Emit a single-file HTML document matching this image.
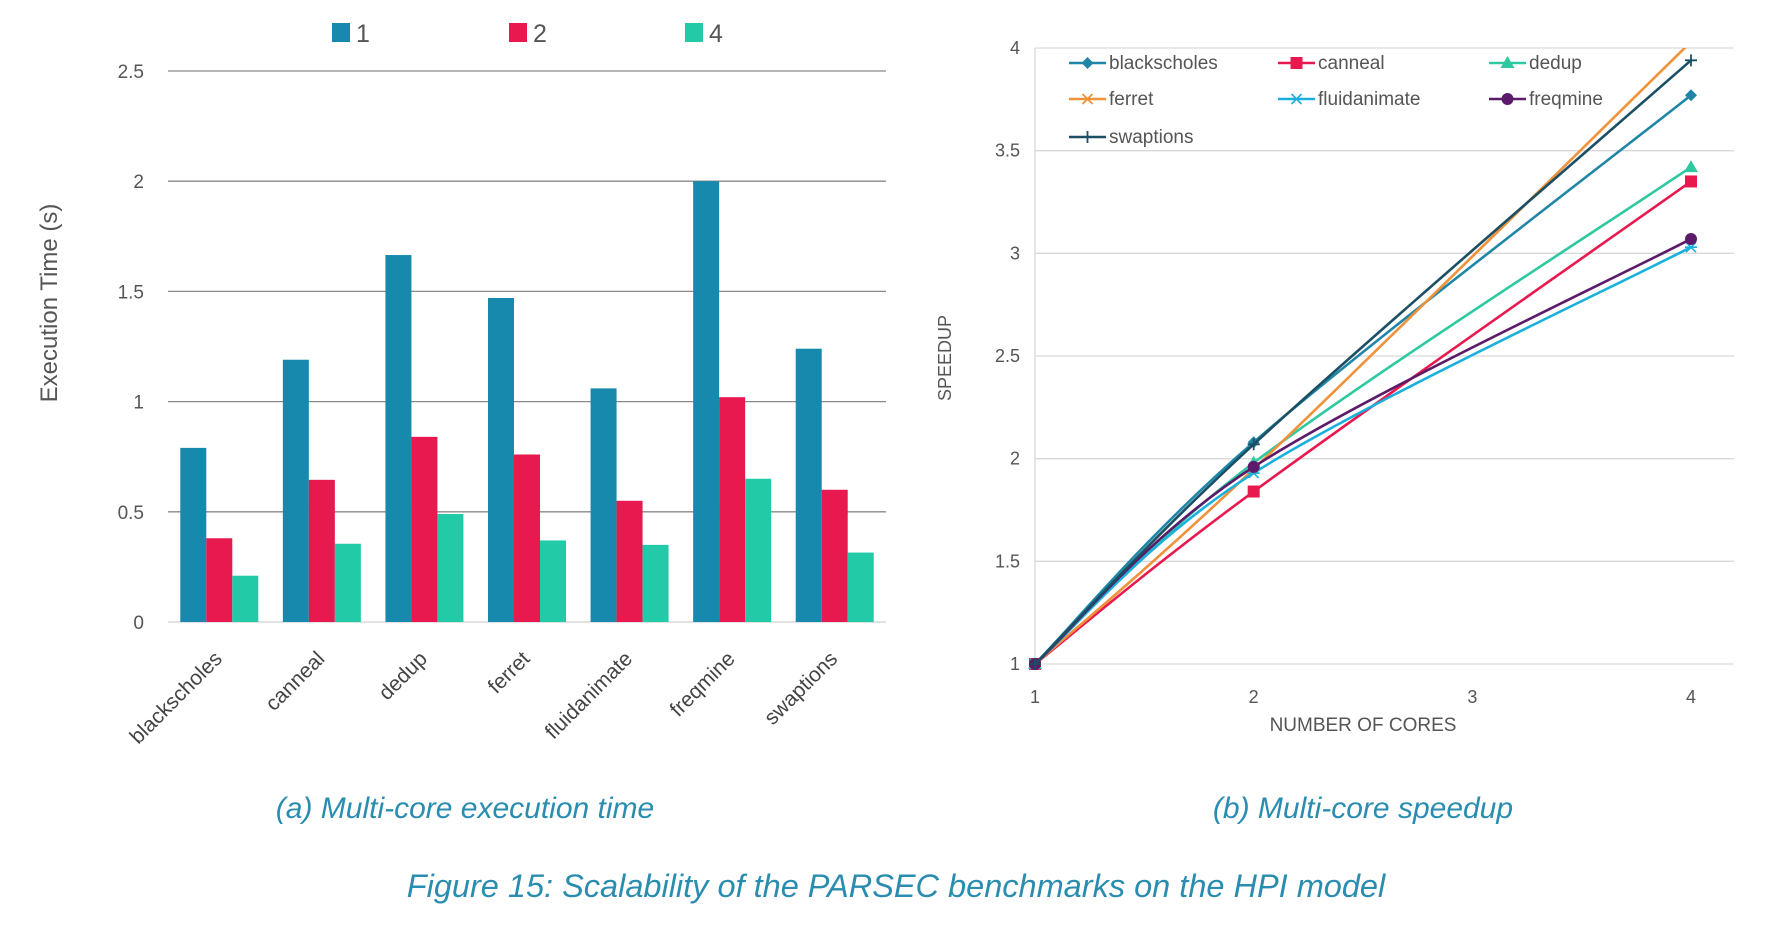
<!DOCTYPE html>
<html><head><meta charset="utf-8"><style>
body{margin:0;background:#fff;width:1792px;height:931px;overflow:hidden;font-family:"Liberation Sans",sans-serif}
svg text{font-family:"Liberation Sans",sans-serif}
</style></head><body>
<svg id="root" width="1792" height="931" viewBox="0 0 1792 931">
<g id="bar"></g>
<g id="line"></g>
<text x="465" y="818" text-anchor="middle" font-size="30" font-style="italic" fill="#2a8db0">(a) Multi-core execution time</text>
<text x="1363" y="818" text-anchor="middle" font-size="30" font-style="italic" fill="#2a8db0">(b) Multi-core speedup</text>
<text x="896" y="897" text-anchor="middle" font-size="32.5" font-style="italic" fill="#2a8db0">Figure 15: Scalability of the PARSEC benchmarks on the HPI model</text>
</svg>
<script>
const categories=["blackscholes","canneal","dedup","ferret","fluidanimate","freqmine","swaptions"];
const series1=[0.79,1.19,1.665,1.47,1.06,2.0,1.24];
const series2=[0.38,0.645,0.84,0.76,0.55,1.02,0.6];
const series4=[0.21,0.355,0.49,0.37,0.35,0.65,0.315];
const seriesNames=["1","2","4"];
const yTicks=[0,0.5,1,1.5,2,2.5];
const yTickLabels=["0","0.5","1","1.5","2","2.5"];

const cores=[1,2,4];
const lineNames=["blackscholes","canneal","dedup","ferret","fluidanimate","freqmine","swaptions"];
const spBlackscholes=[1,2.08,3.77];
const spCanneal=[1,1.84,3.35];
const spDedup=[1,1.98,3.42];
const spFerret=[1,1.95,4.03];
const spFluidanimate=[1,1.93,3.03];
const spFreqmine=[1,1.96,3.07];
const spSwaptions=[1,2.07,3.94];
const spTicks=[1,1.5,2,2.5,3,3.5,4];
const spTickLabels=["1","1.5","2","2.5","3","3.5","4"];
const xTicks=[1,2,3,4];

const NS="http://www.w3.org/2000/svg";
function mk(p,t,a,txt){const e=document.createElementNS(NS,t);for(const k in a)e.setAttribute(k,a[k]);if(txt!==undefined)e.textContent=txt;p.appendChild(e);return e;}

// bar chart
const B=document.getElementById('bar');
const bx0=168,bx1=886,by0=622,by1=71;
const yB=v=>by0-(v/2.5)*(by0-by1);
const bw=(bx1-bx0)/categories.length, barW=26;
const barColors=["#1789ad","#e8194e","#23caa8"];
yTicks.forEach((t,i)=>{
  const g=mk(B,'line',{x1:bx0,x2:bx1,y1:yB(t),y2:yB(t),stroke:i==0?"#d0d0d0":"#8a8a8a","stroke-width":1.3});
  
  const l=mk(B,'text',{x:144,y:yB(t)+7,"text-anchor":"end","font-size":19,fill:"#555"},yTickLabels[i]);
  
});
const all=[series1,series2,series4];
categories.forEach((c,ci)=>{
  const cx=bx0+bw*(ci+0.5);
  all.forEach((s,si)=>{
    const x=cx-1.5*barW+si*barW;
    const r=mk(B,'rect',{x:x,y:yB(s[ci]),width:barW,height:by0-yB(s[ci]),fill:barColors[si]});
    
    
  });
  const ax=cx+4, ay=by0+38;
  const t=mk(B,'text',{x:ax,y:ay,"text-anchor":"end","font-size":21,fill:"#444",transform:`rotate(-45 ${ax} ${ay})`},c);
  
});
const legX=[332,509,685];
seriesNames.forEach((n,i)=>{
  const r=mk(B,'rect',{x:legX[i],y:23,width:18,height:19,fill:barColors[i]});
  
  const t=mk(B,'text',{x:legX[i]+24,y:42,"font-size":25,fill:"#555"},n);
  
});
const yt=mk(B,'text',{x:0,y:0,"text-anchor":"middle","font-size":24,fill:"#555",transform:"translate(57 303) rotate(-90)"},"Execution Time (s)");


// line chart
const L=document.getElementById('line');
const lx0=1035,lx1=1691,lxr=1734,ly0=664,ly1=48;
const xL=v=>lx0+(v-1)/3*(lx1-lx0);
const yL=v=>ly0-(v-1)/3*(ly0-ly1);
mk(L,'defs',{}).innerHTML='<clipPath id="pc"><rect x="1000" y="48" width="740" height="630"/></clipPath>';
spTicks.forEach((t,i)=>{
  const g=mk(L,'line',{x1:lx0,x2:lxr,y1:yL(t),y2:yL(t),stroke:"#d9d9d9","stroke-width":1.3});
  
  const l=mk(L,'text',{x:1020,y:yL(t)+6,"text-anchor":"end","font-size":18,fill:"#555"},spTickLabels[i]);
  
});
const ax=mk(L,'line',{x1:lx0,x2:lx0,y1:ly1,y2:ly0,stroke:"#d9d9d9","stroke-width":1.3});

xTicks.forEach(t=>{
  const l=mk(L,'text',{x:xL(t),y:703,"text-anchor":"middle","font-size":18,fill:"#555"},String(t));
  
});
const xt=mk(L,'text',{x:1363,y:731,"text-anchor":"middle","font-size":19,fill:"#555"},"NUMBER OF CORES");

const st=mk(L,'text',{x:0,y:0,"text-anchor":"middle","font-size":18,fill:"#555",transform:"translate(951 358) rotate(-90)"},"SPEEDUP");


const lineData=[spBlackscholes,spCanneal,spDedup,spFerret,spFluidanimate,spFreqmine,spSwaptions];
const lineColors=["#1f86a8","#e8194e","#2ec9a0","#f0923a","#1ab0de","#5c1a6a","#1b4f64"];
const markers=["diamond","square","triangle","x","star","circle","plus"];
function marker(p,type,x,y,col){
  let e;
  if(type=="diamond")e=mk(p,'path',{d:`M${x} ${y-6}L${x+6} ${y}L${x} ${y+6}L${x-6} ${y}Z`,fill:col});
  else if(type=="square")e=mk(p,'rect',{x:x-6,y:y-6,width:12,height:12,fill:col});
  else if(type=="triangle")e=mk(p,'path',{d:`M${x} ${y-7}L${x+7} ${y+5}L${x-7} ${y+5}Z`,fill:col});
  else if(type=="circle")e=mk(p,'circle',{cx:x,cy:y,r:6,fill:col});
  else if(type=="x")e=mk(p,'path',{d:`M${x-5} ${y-5}L${x+5} ${y+5}M${x-5} ${y+5}L${x+5} ${y-5}`,stroke:col,"stroke-width":1.8});
  else if(type=="star")e=mk(p,'path',{d:`M${x-5} ${y-5}L${x+5} ${y+5}M${x-5} ${y+5}L${x+5} ${y-5}M${x-6} ${y}L${x+6} ${y}`,stroke:col,"stroke-width":1.6});
  else e=mk(p,'path',{d:`M${x-6} ${y}L${x+6} ${y}M${x} ${y-6}L${x} ${y+6}`,stroke:col,"stroke-width":1.8});
  return e;
}
function smooth(pts){
  let d=`M${pts[0][0]} ${pts[0][1]}`;
  const t=1/6;
  for(let i=0;i<pts.length-1;i++){
    const p0=pts[Math.max(0,i-1)],p1=pts[i],p2=pts[i+1],p3=pts[Math.min(pts.length-1,i+2)];
    const c1=[p1[0]+(p2[0]-p0[0])*t,p1[1]+(p2[1]-p0[1])*t];
    const c2=[p2[0]-(p3[0]-p1[0])*t,p2[1]-(p3[1]-p1[1])*t];
    d+=`C${c1[0]} ${c1[1]} ${c2[0]} ${c2[1]} ${p2[0]} ${p2[1]}`;
  }
  return d;
}
const LG=mk(L,'g',{"clip-path":"url(#pc)"});
lineData.forEach((s,i)=>{
  const pts=cores.map((c,j)=>[xL(c),yL(s[j])]);
  const p=mk(LG,'path',{d:smooth(pts),fill:"none",stroke:lineColors[i],"stroke-width":2.6});
  
  
  pts.forEach(pt=>{
    const m=marker(LG,markers[i],pt[0],pt[1],lineColors[i]);
    
    
  });
});
const legCols=[1069,1278,1489],legRows=[63,99,137];
lineNames.forEach((n,i)=>{
  const x=legCols[i%3],y=legRows[Math.floor(i/3)];
  const l=mk(L,'line',{x1:x,x2:x+37,y1:y,y2:y,stroke:lineColors[i],"stroke-width":2.6});
  
  marker(L,markers[i],x+18.5,y,lineColors[i]);
  const t=mk(L,'text',{x:x+40,y:y+6,"font-size":19,fill:"#555"},n);
  
});
</script>
</body></html>
